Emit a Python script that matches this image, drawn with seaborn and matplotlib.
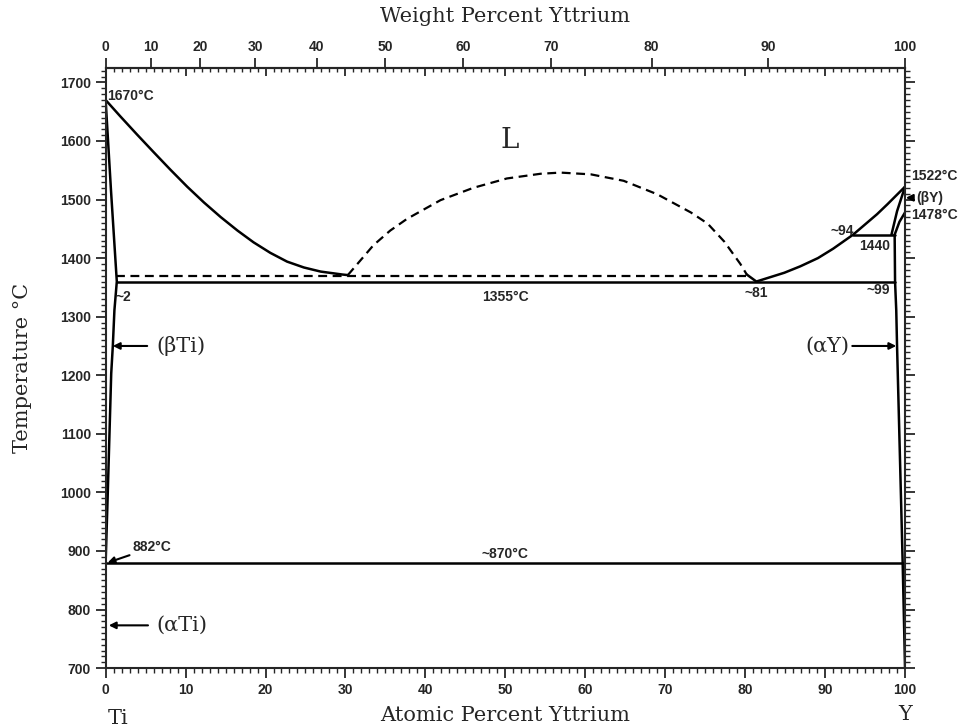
import numpy as np
import pandas as pd
import matplotlib
matplotlib.use("Agg")
import matplotlib.pyplot as plt
import seaborn as sns
from matplotlib.ticker import MultipleLocator, NullFormatter, FixedLocator

# ============================================================
# Data (at.% Y, deg C)
# ============================================================

ti_liq_x = [0, 1.84, 3.93, 6.0, 8.1, 10.2, 12.3, 14.4, 16.5, 18.5, 20.6, 22.7, 24.8, 26.9, 29.6, 30.3]
ti_liq_t = [1670, 1642, 1611, 1581, 1551, 1522, 1495, 1470, 1447, 1427, 1409, 1394, 1384, 1377, 1372, 1371]

dome_x = [30.3, 33.5, 35.6, 37.7, 41.9, 46.0, 50.2, 54.4, 56.9, 60.7, 64.8, 69.0, 73.2, 75.3, 77.4, 79.4, 80.2]
dome_t = [1371, 1422, 1447, 1467, 1499, 1520, 1536, 1544, 1546, 1543, 1532, 1509, 1478, 1459, 1428, 1390, 1372]

y_liq_x = [80.2, 81.4, 84.9, 86.9, 89.1, 91.0, 93.5, 95.3, 96.5, 97.8, 100]
y_liq_t = [1372, 1360, 1375, 1386, 1400, 1416, 1440, 1461, 1475, 1492, 1522]

beta_ti_x = [0, 0.67, 1.4, 1.1, 0.9, 0.7, 0.25, 0]
beta_ti_t = [1670, 1516, 1360, 1311, 1250, 1203, 990, 880]

beta_y_sol_x = [98.3, 99.0, 100]
beta_y_sol_t = [1440, 1480, 1522]
beta_y_trans_x = [98.7, 99.3, 100]
beta_y_trans_t = [1440, 1462, 1478]

alpha_y_x = [98.7, 98.75, 98.9, 99.0, 99.5, 99.7, 100]
alpha_y_t = [1440, 1360, 1311, 1250, 987, 881, 700]

monotectic_x = [1.3, 80.2]
monotectic_t = [1370, 1370]
eutectic_x = [1.4, 98.7]
eutectic_t = [1360, 1360]
peritectic_x = [93.5, 98.7]
peritectic_t = [1440, 1440]
eutectoid_x = [0, 99.7]
eutectoid_t = [880, 880]

weight_ticks = [0, 10, 20, 30, 40, 50, 60, 70, 80, 90, 100]

M_TI = 47.867
M_Y = 88.906


def at_to_wt(a):
    a = np.asarray(a, dtype=float)
    return 100 * a * M_Y / (a * M_Y + (100 - a) * M_TI)


def wt_to_at(w):
    w = np.asarray(w, dtype=float)
    return 100 * (w / M_Y) / (w / M_Y + (100 - w) / M_TI)


# ============================================================
# Figure
# ============================================================

sns.set_theme(style="ticks")
plt.rcParams["font.family"] = ["DejaVu Sans"]

fig = plt.figure(figsize=(9.69, 7.27), dpi=100)
ax = fig.add_axes([0.109, 0.081, 0.825, 0.825])

solid = dict(color="black", linewidth=1.8, sort=False, estimator=None, ax=ax)

for xs, ts in [
    (ti_liq_x, ti_liq_t),
    (y_liq_x, y_liq_t),
    (beta_ti_x, beta_ti_t),
    (beta_y_sol_x, beta_y_sol_t),
    (beta_y_trans_x, beta_y_trans_t),
    (alpha_y_x, alpha_y_t),
    (eutectic_x, eutectic_t),
    (peritectic_x, peritectic_t),
    (eutectoid_x, eutectoid_t),
]:
    sns.lineplot(x=xs, y=ts, **solid)

for xs, ts in [(dome_x, dome_t), (monotectic_x, monotectic_t)]:
    sns.lineplot(x=xs, y=ts, color="black", linewidth=1.6, sort=False,
                 estimator=None, ax=ax, linestyle=(0, (4, 2.5)))

ax.set_xlim(0, 100)
ax.set_ylim(700, 1724)

# ------------------------------------------------------------
# Axes, ticks
# ------------------------------------------------------------

for s in ax.spines.values():
    s.set_visible(True)
    s.set_linewidth(1.5)

ax.xaxis.set_major_locator(MultipleLocator(10))
ax.xaxis.set_minor_locator(MultipleLocator(1))
ax.yaxis.set_major_locator(MultipleLocator(100))
ax.yaxis.set_minor_locator(MultipleLocator(10))
ax.tick_params(axis="x", which="both", direction="out", top=False, bottom=True)
ax.tick_params(axis="y", which="both", direction="out", left=True, right=True)
ax.tick_params(which="major", length=7, width=1.3)
ax.tick_params(which="minor", length=3.5, width=1.0)
for lbl in ax.get_xticklabels() + ax.get_yticklabels():
    lbl.set_fontsize(10)
    lbl.set_fontweight("bold")
    lbl.set_family("Liberation Sans")

# inward atomic ticks on the top spine
top_in = ax.secondary_xaxis("top")
top_in.xaxis.set_major_locator(MultipleLocator(10))
top_in.xaxis.set_minor_locator(MultipleLocator(1))
top_in.xaxis.set_major_formatter(NullFormatter())
top_in.tick_params(which="both", direction="in")
top_in.tick_params(which="major", length=6, width=1.3)
top_in.tick_params(which="minor", length=3, width=1.0)
top_in.spines["top"].set_linewidth(1.5)

# weight percent scale on top
top_wt = ax.secondary_xaxis("top", functions=(at_to_wt, wt_to_at))
top_wt.xaxis.set_major_locator(FixedLocator(weight_ticks))
top_wt.xaxis.set_minor_locator(FixedLocator([]))
top_wt.tick_params(which="major", direction="out", length=7, width=1.3, pad=3)
for lbl in top_wt.get_xticklabels():
    lbl.set_fontsize(10)
    lbl.set_fontweight("bold")
    lbl.set_family("Liberation Sans")

label_font = dict(fontsize=15, family="DejaVu Serif")
ax.set_xlabel("Atomic Percent Yttrium", labelpad=7, **label_font)
ax.set_ylabel("Temperature °C", labelpad=20, **label_font)
top_wt.set_xlabel("Weight Percent Yttrium", labelpad=13, **label_font)

fig.text(118 / 969, 1 - 718 / 727, "Ti", ha="center", va="center", **label_font)
fig.text(905 / 969, 1 - 714 / 727, "Y", ha="center", va="center", **label_font)

# ------------------------------------------------------------
# Annotations
# ------------------------------------------------------------

small = dict(fontsize=10, fontweight="bold", family="Liberation Sans")
phase = dict(fontsize=15, family="DejaVu Serif")
arrow = dict(arrowstyle="-|>", color="black", lw=1.5, mutation_scale=10,
             shrinkA=0, shrinkB=0)

ax.text(50.6, 1601, "L", ha="center", va="center", fontsize=20, family="DejaVu Serif")

ax.text(0.2, 1676, "1670°C", ha="left", va="center", **small)
ax.text(1.2, 1334, "~2", ha="left", va="center", **small)
ax.text(50, 1334, "1355°C", ha="center", va="center", **small)
ax.text(81.4, 1340, "~81", ha="center", va="center", **small)
ax.text(96.7, 1345, "~99", ha="center", va="center", **small)
ax.text(92.2, 1447, "~94", ha="center", va="center", **small)
ax.text(96.2, 1420, "1440", ha="center", va="center", **small)
ax.text(50, 895, "~870°C", ha="center", va="center", **small)
ax.text(100.8, 1541, "1522°C", ha="left", va="center", **small, clip_on=False)
ax.text(100.8, 1473, "1478°C", ha="left", va="center", **small, clip_on=False)
ax.annotate("(βY)", xy=(100.1, 1503), xytext=(101.4, 1503), ha="left", va="center",
            arrowprops=arrow, annotation_clip=False, **small)

ax.annotate("882°C", xy=(0.25, 880), xytext=(3.4, 906), ha="left", va="center",
            arrowprops=arrow, **small)

ax.annotate("", xy=(0.9, 1250), xytext=(5.2, 1250), arrowprops=arrow)
ax.text(6.3, 1250, "(βTi)", ha="left", va="center", **phase)
ax.annotate("", xy=(0.4, 773), xytext=(5.3, 773), arrowprops=arrow)
ax.text(6.3, 773, "(αTi)", ha="left", va="center", **phase)
ax.annotate("", xy=(98.9, 1250), xytext=(93.4, 1250), arrowprops=arrow)
ax.text(93.0, 1250, "(αY)", ha="right", va="center", **phase)

plt.savefig("out.png", dpi=100)
plt.close()
